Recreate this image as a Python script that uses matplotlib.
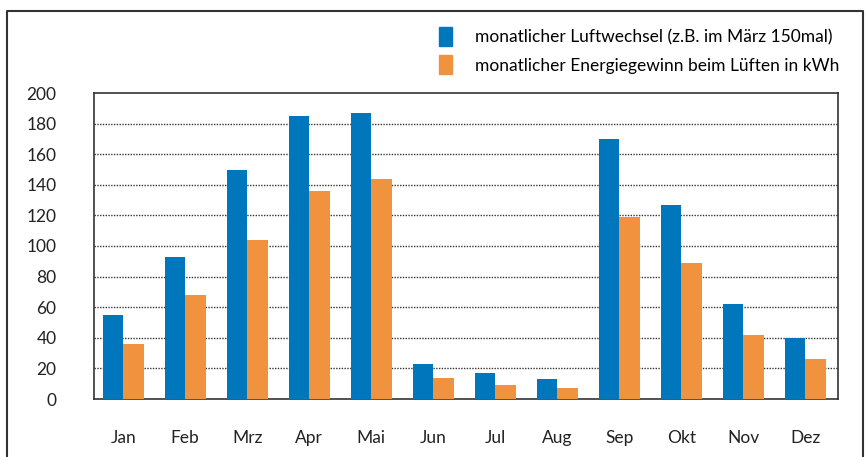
import matplotlib.pyplot as plt
import numpy as np
from matplotlib.lines import Line2D
from matplotlib.patches import Patch

plt.rcParams['font.family'] = ['Lato', 'DejaVu Sans']

monate = ['Jan', 'Feb', 'Mrz', 'Apr', 'Mai', 'Jun', 'Jul', 'Aug', 'Sep', 'Okt', 'Nov', 'Dez']
luftwechsel = [55, 93, 150, 185, 187, 23, 17, 13, 170, 127, 62, 40]
energie = [36, 68, 104, 136, 144, 14, 9, 7, 119, 89, 42, 26]
label_luft = 'monatlicher Luftwechsel (z.B. im März 150mal)'
label_energie = 'monatlicher Energiegewinn beim Lüften in kWh'
yticks = [0, 20, 40, 60, 80, 100, 120, 140, 160, 180, 200]

blau = '#0077BD'
orange = '#F0923E'

fig = plt.figure(figsize=(8.66, 4.57), dpi=100)
ax = fig.add_axes([94/866, 1-399/457, 744/866, 306/457])

x = np.arange(len(monate))
w = 0.33
ax.bar(x - w/2 - 0.03, luftwechsel, w, color=blau, zorder=3)
ax.bar(x + w/2 - 0.03, energie, w, color=orange, zorder=3)

ax.set_xlim(-0.5, len(monate) - 0.5)
ax.set_ylim(0, 200)
ax.set_yticks(yticks)
ax.set_xticks(x - 0.03)
ax.set_xticklabels(monate)
ax.tick_params(length=0, labelsize=12.5, colors='#222222')
ax.tick_params(axis='y', pad=27)
ax.tick_params(axis='x', pad=22)
for yv in yticks[1:-1]:
    ax.axhline(yv, color='#333333', lw=1, ls=(0, (1, 1)), zorder=1)
for s in ax.spines.values():
    s.set_color('#333333')
    s.set_linewidth(1.2)

handles = [Patch(color=blau), Patch(color=orange)]
fig.legend(handles, [label_luft, label_energie], loc='upper left',
           bbox_to_anchor=(439/866, 1-27/457), frameon=False, fontsize=12.5,
           handlelength=0.75, handleheight=1.3, handletextpad=1.3,
           labelspacing=0.55, borderaxespad=0, borderpad=0)

# aeusserer Rahmen
fx = [7/866, 7/866, 863/866, 863/866]
fy = [0, 1-11/457, 1-11/457, 0]
fig.add_artist(Line2D(fx, fy, transform=fig.transFigure, color='#333333', lw=1.5))

fig.savefig('out.png', dpi=100)
